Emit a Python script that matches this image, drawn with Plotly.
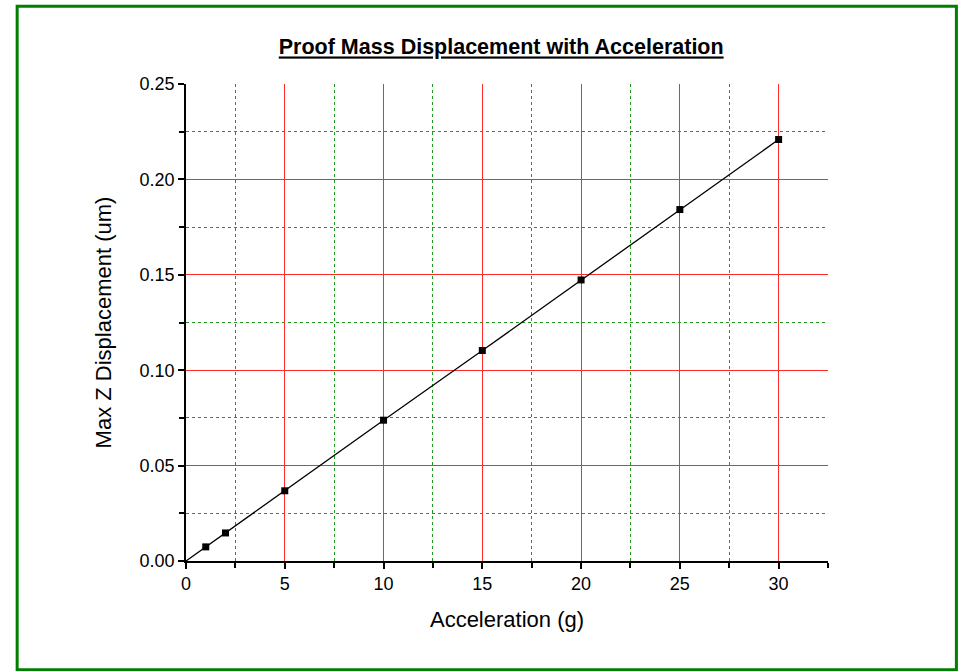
import plotly.graph_objects as go

# Data
accel_g = [0, 1, 2, 5, 10, 15, 20, 25, 30]
max_z_disp_um = [0.0, 0.0074, 0.0147, 0.0368, 0.0738, 0.1103, 0.1473, 0.1842, 0.2209]

x_ticks = [0, 5, 10, 15, 20, 25, 30]
x_minor = [2.5, 7.5, 12.5, 17.5, 22.5, 27.5, 32.5]
y_ticks = [0.00, 0.05, 0.10, 0.15, 0.20, 0.25]
y_minor = [0.025, 0.075, 0.125, 0.175, 0.225]

FONT = "Liberation Sans, Arial, sans-serif"
MINOR_GREEN = "#1f9a1f"
MAJOR_RED = "#ff2a2a"

fig = go.Figure()
fig.add_trace(go.Scatter(
    x=accel_g, y=max_z_disp_um, mode="lines",
    line=dict(color="black", width=1.3), showlegend=False, hoverinfo="skip"))
fig.add_trace(go.Scatter(
    x=accel_g[1:], y=max_z_disp_um[1:], mode="markers",
    marker=dict(symbol="square", size=7, color="black"), showlegend=False))

fig.update_layout(
    width=962, height=671,
    margin=dict(l=186, r=134, t=84, b=110),
    paper_bgcolor="white", plot_bgcolor="white",
    font=dict(family=FONT, color="black"),
    title=dict(text="<b><u>Proof Mass Displacement with Acceleration</u></b>",
               x=0.521, xanchor="center", y=0.93, yanchor="middle",
               font=dict(size=21.5, family=FONT, color="black")),
    shapes=[dict(type="rect", xref="paper", yref="paper",
                 x0=-0.263, x1=1.2, y0=-0.228, y1=1.163,
                 line=dict(color="#008000", width=3), layer="below")],
)

fig.update_xaxes(
    range=[0, 32.5], tickvals=x_ticks, ticktext=[str(v) for v in x_ticks],
    showline=True, linecolor="black", linewidth=1.5,
    ticks="outside", ticklen=6, tickwidth=1.5, tickcolor="black",
    tickfont=dict(size=18, family=FONT),
    showgrid=True, gridcolor=MAJOR_RED, gridwidth=1,
    zeroline=False,
    minor=dict(tickvals=x_minor, showgrid=True, gridcolor=MINOR_GREEN,
               griddash="dot", gridwidth=1,
               ticks="outside", ticklen=5, tickwidth=1.5, tickcolor="black"),
    title=dict(text="Acceleration (g)", font=dict(size=22, family=FONT), standoff=18),
)
fig.update_yaxes(
    range=[0, 0.25], tickvals=y_ticks, ticktext=[f"{v:.2f}" for v in y_ticks],
    showline=True, linecolor="black", linewidth=1.5,
    ticks="outside", ticklen=6, tickwidth=1.5, tickcolor="black",
    tickfont=dict(size=18, family=FONT),
    showgrid=True, gridcolor=MAJOR_RED, gridwidth=1,
    zeroline=False,
    minor=dict(tickvals=y_minor, showgrid=True, gridcolor=MINOR_GREEN,
               griddash="dot", gridwidth=1,
               ticks="outside", ticklen=5, tickwidth=1.5, tickcolor="black"),
    title=dict(text="Max Z Displacement (um)", font=dict(size=22, family=FONT), standoff=22),
)

fig.write_html("out.html")
